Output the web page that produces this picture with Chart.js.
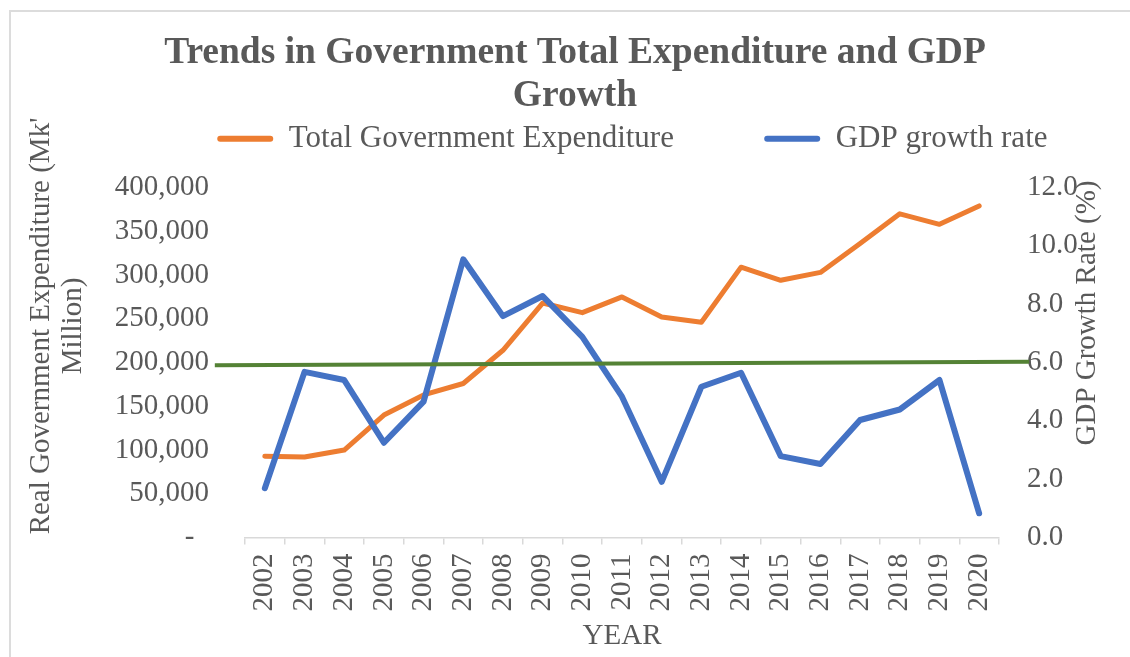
<!DOCTYPE html>
<html>
<head>
<meta charset="utf-8">
<title>Trends in Government Total Expenditure and GDP Growth</title>
<script src="https://cdn.jsdelivr.net/npm/chart.js@4.4.1/dist/chart.umd.min.js"></script>
<style>
  html, body { margin: 0; padding: 0; background: #fff; }
  #wrap { position: relative; width: 1130px; height: 657px; overflow: hidden; }
  #frame { position: absolute; left: 9px; top: 10px; width: 1300px; height: 800px;
           border-left: 2px solid #dcdcdc; border-top: 2px solid #dcdcdc; }
  #chart { position: absolute; left: 0; top: 0; }
</style>
</head>
<body>
<div id="wrap">
  <div id="frame"></div>
  <canvas id="chart" width="1130" height="657"></canvas>
</div>
<script>
// values
var years = ['2002', '2003', '2004', '2005', '2006', '2007', '2008', '2009', '2010', '2011',
             '2012', '2013', '2014', '2015', '2016', '2017', '2018', '2019', '2020'];
var expenditure = [93000, 92000, 100000, 140000, 163000, 176000, 214000, 268000, 257000, 275000,
                   252000, 246000, 309000, 294000, 303000, 336000, 370000, 358000, 379000];
var gdpGrowth = [1.69, 5.68, 5.40, 3.25, 4.66, 9.54, 7.59, 8.28, 6.88, 4.83,
                 1.91, 5.17, 5.65, 2.79, 2.52, 4.03, 4.39, 5.40, 0.83];
// green reference line (runs a bit past both ends of the plot)
var refLineX = [-0.04, 1.04];
var refLineY = [5.91, 6.03];

var seriesNames = ['Total Government Expenditure', 'GDP growth rate'];
var titleLines = ['Trends in Government Total Expenditure and GDP', 'Growth'];
var leftTitle = ["Real Government Expenditure (Mk'", 'Million)'];
var rightTitle = 'GDP Growth Rate (%)';
var xTitle = 'YEAR';

var grey = '#595959';
var serif = "'Liberation Serif', 'Times New Roman', serif";
// blank padding so the two legend entries sit where Excel put them
var legendGap = '           ';
var legendTail = '          ';

Chart.defaults.font.family = serif;
Chart.defaults.color = grey;

// axis titles drawn by hand, Excel puts them off-centre
var axisTitles = {
	id: 'axisTitles',
	afterDraw: function(chart, args, opts) {
		var ctx = chart.ctx;
		ctx.save();
		ctx.fillStyle = grey;
		ctx.font = opts.size + 'px ' + serif;
		ctx.textAlign = 'center';
		ctx.textBaseline = 'middle';
		opts.items.forEach(function(item) {
			ctx.save();
			ctx.translate(item.x, item.y);
			ctx.rotate(-Math.PI / 2);
			ctx.fillText(item.text, 0, 0);
			ctx.restore();
		});
		ctx.restore();
	}
};

var refLine = refLineX.map(function(x, i) { return {x: x, y: refLineY[i]}; });

new Chart(document.getElementById('chart'), {
	type: 'line',
	data: {
		labels: years,
		datasets: [{
			label: seriesNames[0],
			data: expenditure,
			yAxisID: 'y',
			borderColor: '#ED7D31',
			backgroundColor: '#ED7D31',
			borderWidth: 5,
			pointRadius: 0,
			borderJoinStyle: 'round',
			borderCapStyle: 'round',
			order: 3
		}, {
			label: seriesNames[1],
			data: gdpGrowth,
			yAxisID: 'y1',
			borderColor: '#4472C4',
			backgroundColor: '#4472C4',
			borderWidth: 6,
			pointRadius: 0,
			borderJoinStyle: 'round',
			borderCapStyle: 'round',
			order: 2
		}, {
			label: 'ref',
			data: refLine,
			xAxisID: 'xr',
			yAxisID: 'y1',
			borderColor: '#548235',
			borderWidth: 4,
			pointRadius: 0,
			clip: false,
			order: 1
		}]
	},
	options: {
		responsive: false,
		animation: false,
		layout: { padding: { left: 20, right: 0, top: 0, bottom: 0 } },
		plugins: {
			title: {
				display: true,
				text: titleLines,
				color: grey,
				font: { size: 37.5, weight: 'bold', lineHeight: 1.15 },
				padding: { top: 32, bottom: 0 }
			},
			legend: {
				display: true,
				position: 'top',
				align: 'end',
				weight: 1800,
				labels: {
					color: grey,
					font: { size: 31 },
					boxWidth: 56,
					boxHeight: 6,
					padding: 5,
					useBorderRadius: true,
					borderRadius: 3,
					generateLabels: function(chart) {
						var items = Chart.defaults.plugins.legend.labels.generateLabels(chart);
						return items.filter(function(it) { return it.datasetIndex < 2; })
							.sort(function(a, b) { return a.datasetIndex - b.datasetIndex; })
							.map(function(it) {
								it.fillStyle = it.strokeStyle;
								it.lineWidth = 0;
								it.text = it.text + (it.datasetIndex === 0 ? legendGap : legendTail);
								return it;
							});
					}
				}
			},
			// empty subtitle only keeps some room between legend and plot
			subtitle: {
				display: true,
				text: '',
				font: { size: 10, lineHeight: 1 },
				padding: { top: 0, bottom: 13.3 }
			},
			tooltip: { enabled: false },
			axisTitles: {
				size: 29,
				items: [
					{ text: leftTitle[0], x: 41, y: 326 },
					{ text: leftTitle[1], x: 73, y: 326 },
					{ text: rightTitle, x: 1087, y: 313 }
				]
			}
		},
		scales: {
			x: {
				type: 'category',
				offset: true,
				afterFit: function(s) { s.height = 119.5; },
				grid: {
					display: true,
					offset: true,
					drawOnChartArea: false,
					drawTicks: true,
					tickLength: 7,
					color: '#d9d9d9',
					lineWidth: 1.5
				},
				border: { display: true, color: '#d9d9d9', width: 1.5 },
				ticks: {
					color: grey,
					font: { size: 29 },
					minRotation: 90,
					maxRotation: 90,
					autoSkip: false,
					padding: 9
				},
				title: {
					display: true,
					text: xTitle,
					color: grey,
					font: { size: 29 },
					padding: { top: 0, bottom: 3 }
				}
			},
			xr: {
				type: 'linear',
				display: false,
				min: 0,
				max: 1,
				offset: false
			},
			y: {
				position: 'left',
				min: 0,
				max: 400000,
				afterFit: function(s) { s.width = 225; },
				grid: { display: false, drawTicks: false },
				border: { display: false },
				ticks: {
					stepSize: 50000,
					color: grey,
					font: { size: 29 },
					padding: 36,
					callback: function(v) { return v === 0 ? '-  ' : v.toLocaleString('en-US'); }
				}
			},
			y1: {
				position: 'right',
				min: 0,
				max: 12,
				afterFit: function(s) { s.width = 131; },
				grid: { display: false, drawTicks: false },
				border: { display: false },
				ticks: {
					stepSize: 2,
					color: grey,
					font: { size: 29 },
					padding: 28,
					callback: function(v) { return v.toFixed(1); }
				}
			}
		}
	},
	plugins: [axisTitles]
});
</script>
</body>
</html>
